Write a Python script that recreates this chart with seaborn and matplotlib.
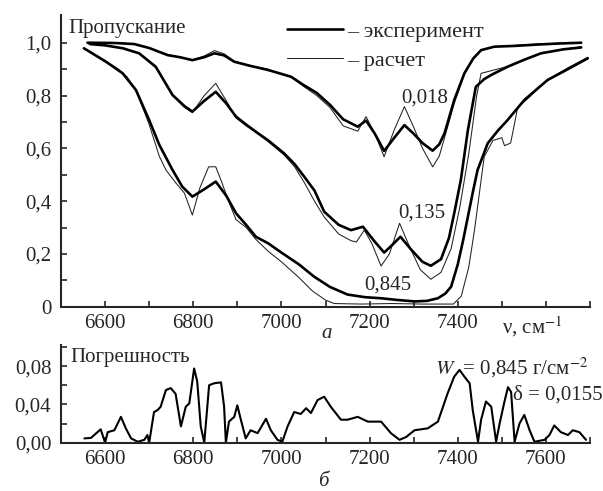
import numpy as np
import pandas as pd
import matplotlib
matplotlib.use("Agg")
import matplotlib.pyplot as plt
from matplotlib.lines import Line2D
import seaborn as sns

# ---------------- data ----------------
exp018_x = [6560, 6620, 6666, 6700, 6742, 6770, 6798, 6825, 6848, 6870, 6893, 6930, 6969, 7000, 7022,
            7050, 7080, 7110, 7140, 7173, 7192, 7212, 7233, 7256, 7279, 7300, 7320, 7343, 7358, 7370,
            7392, 7415, 7435, 7453, 7483, 7530, 7580, 7630, 7680]
exp018_y = [1.0, 0.999, 0.995, 0.98, 0.953, 0.945, 0.934, 0.945, 0.96, 0.952, 0.928, 0.912, 0.897, 0.882, 0.871,
            0.84, 0.81, 0.765, 0.71, 0.682, 0.705, 0.655, 0.59, 0.64, 0.688, 0.655, 0.62, 0.591, 0.615, 0.657,
            0.783, 0.884, 0.94, 0.972, 0.985, 0.988, 0.993, 0.997, 1.0]
calc018_x = exp018_x
calc018_y = [1.0, 0.999, 0.996, 0.98, 0.955, 0.945, 0.935, 0.95, 0.97, 0.958, 0.93, 0.913, 0.9, 0.88, 0.87,
             0.835, 0.8, 0.755, 0.685, 0.665, 0.72, 0.655, 0.568, 0.67, 0.758, 0.68, 0.6, 0.53, 0.57, 0.64,
             0.77, 0.88, 0.94, 0.97, 0.985, 0.99, 0.995, 0.998, 1.0]

exp135_x = [6565, 6600, 6640, 6677, 6715, 6753, 6780, 6798, 6825, 6851, 6875, 6897, 6920, 6942, 6970,
            7006, 7030, 7052, 7075, 7097, 7130, 7158, 7185, 7210, 7233, 7252, 7270, 7295, 7320, 7339,
            7362, 7380, 7392, 7407, 7423, 7441, 7460, 7476, 7513, 7550, 7589, 7640, 7680]
exp135_y = [0.995, 0.99, 0.979, 0.96, 0.909, 0.802, 0.76, 0.739, 0.78, 0.814, 0.77, 0.72, 0.69, 0.663, 0.63,
            0.581, 0.54, 0.492, 0.44, 0.36, 0.31, 0.29, 0.303, 0.25, 0.205, 0.235, 0.265, 0.215, 0.17, 0.155,
            0.18, 0.26, 0.354, 0.48, 0.669, 0.833, 0.862, 0.878, 0.909, 0.935, 0.96, 0.975, 0.982]
calc135_x = [6565, 6600, 6640, 6677, 6715, 6753, 6780, 6798, 6825, 6851, 6875, 6897, 6920, 6942, 6970,
             7006, 7030, 7052, 7075, 7097, 7130, 7158, 7170, 7188, 7205, 7226, 7245, 7268, 7290, 7315,
             7339, 7362, 7385, 7405, 7425, 7443, 7453, 7483, 7513, 7550, 7589, 7640, 7680]
calc135_y = [0.995, 0.99, 0.98, 0.96, 0.905, 0.8, 0.755, 0.735, 0.8, 0.846, 0.78, 0.715, 0.685, 0.66, 0.625,
             0.575, 0.53, 0.47, 0.40, 0.34, 0.275, 0.25, 0.245, 0.29, 0.24, 0.154, 0.2, 0.316, 0.23, 0.14,
             0.104, 0.13, 0.22, 0.38, 0.58, 0.80, 0.884, 0.897, 0.91, 0.935, 0.96, 0.975, 0.985]

exp845_x = [6552, 6602, 6640, 6670, 6700, 6723, 6753, 6775, 6798, 6825, 6851, 6875, 6897, 6920, 6942,
            6970, 7000, 7040, 7074, 7110, 7150, 7190, 7226, 7260, 7302, 7330, 7355, 7372, 7385, 7400,
            7412, 7423, 7435, 7445, 7468, 7490, 7513, 7551, 7580, 7604, 7650, 7695]
exp845_y = [0.979, 0.928, 0.884, 0.821, 0.707, 0.613, 0.518, 0.455, 0.417, 0.445, 0.474, 0.42, 0.354, 0.31, 0.265,
            0.24, 0.205, 0.16, 0.114, 0.075, 0.046, 0.036, 0.032, 0.026, 0.02, 0.022, 0.032, 0.05, 0.076, 0.16,
            0.25, 0.341, 0.44, 0.518, 0.619, 0.665, 0.707, 0.783, 0.825, 0.859, 0.9, 0.941]
calc845_x = [6552, 6602, 6630, 6650, 6670, 6700, 6723, 6738, 6760, 6780, 6798, 6815, 6835, 6851, 6865,
             6880, 6897, 6920, 6942, 6970, 7000, 7040, 7070, 7100, 7120, 7180, 7250, 7320, 7390, 7408,
             7425, 7438, 7460, 7480, 7500, 7506, 7520, 7536, 7560, 7604, 7650, 7695]
calc845_y = [0.979, 0.93, 0.9, 0.87, 0.82, 0.69, 0.57, 0.518, 0.47, 0.43, 0.347, 0.45, 0.53, 0.53, 0.47,
             0.40, 0.33, 0.3, 0.255, 0.21, 0.17, 0.11, 0.06, 0.025, 0.012, 0.01, 0.012, 0.01, 0.01, 0.04,
             0.15, 0.29, 0.568, 0.63, 0.64, 0.61, 0.62, 0.755, 0.79, 0.86, 0.905, 0.945]

err_x = [6553, 6568, 6590, 6600, 6606, 6621, 6636, 6647, 6659, 6674, 6689, 6696, 6700, 6711, 6719,
         6726, 6738, 6749, 6760, 6772, 6783, 6791, 6802, 6809, 6817, 6825, 6836, 6847, 6863, 6870,
         6874, 6881, 6893, 6900, 6908, 6919, 6930, 6946, 6965, 6976, 6991, 7002, 7014, 7029, 7044,
         7056, 7067, 7082, 7097, 7112, 7135, 7150, 7173, 7196, 7226, 7249, 7268, 7283, 7302, 7332,
         7355, 7377, 7392, 7404, 7415, 7427, 7434, 7446, 7453, 7464, 7476, 7487, 7495, 7506, 7514,
         7521, 7529, 7540, 7551, 7563, 7574, 7597, 7608, 7619, 7634, 7650, 7661, 7676, 7691]
err_y = [0.0045, 0.005, 0.014, 0.0, 0.011, 0.013, 0.027, 0.015, 0.0045, 0.001, 0.003, 0.008, 0.0, 0.032, 0.034,
         0.0375, 0.055, 0.057, 0.051, 0.017, 0.0375, 0.041, 0.0775, 0.064, 0.017, 0.0, 0.060, 0.062, 0.063, 0.0375,
         0.0, 0.022, 0.027, 0.039, 0.024, 0.0045, 0.013, 0.010, 0.025, 0.013, 0.003, 0.001, 0.017, 0.032, 0.030,
         0.036, 0.031, 0.0445, 0.048, 0.0375, 0.024, 0.024, 0.027, 0.022, 0.022, 0.0097, 0.003, 0.006, 0.013, 0.015,
         0.022, 0.0515, 0.069, 0.076, 0.069, 0.062, 0.034, 0.001, 0.024, 0.043, 0.0375, 0.001, 0.020, 0.043, 0.058,
         0.053, 0.001, 0.020, 0.029, 0.013, 0.001, 0.003, 0.008, 0.018, 0.011, 0.008, 0.013, 0.011, 0.003]

xticks_top = [6600, 6800, 7000, 7200, 7400]
xtick_labels_top = ["6600", "6800", "7000", "7200", "7400"]
yticks_top = [0, 0.2, 0.4, 0.6, 0.8, 1.0]
ytick_labels_top = ["0", "0,2", "0,4", "0,6", "0,8", "1,0"]
xticks_bot = [6600, 6800, 7000, 7200, 7400, 7600]
xtick_labels_bot = ["6600", "6800", "7000", "7200", "7400", "7600"]
yticks_bot = [0.0, 0.04, 0.08]
ytick_labels_bot = ["0,00", "0,04", "0,08"]
conc_labels = ["0,018", "0,135", "0,845"]

# ---------------- style ----------------
sns.set_style("ticks")
plt.rcParams['font.family'] = ['Liberation Serif', 'DejaVu Serif']
plt.rcParams['mathtext.fontset'] = 'stix'
FS = 15

W, H = 603, 491
fig = plt.figure(figsize=(W / 100, H / 100), dpi=100)
ax1 = fig.add_axes([61 / W, 1 - 306.7 / H, 529 / W, 291.7 / H])
ax2 = fig.add_axes([61 / W, 1 - 442.7 / H, 529 / W, 97.7 / H])

THICK, THIN = 1.9, 0.75
for xs, ys in [(calc018_x, calc018_y), (calc135_x, calc135_y), (calc845_x, calc845_y)]:
    sns.lineplot(x=xs, y=ys, ax=ax1, color="#222222", linewidth=THIN, estimator=None, sort=False)
for xs, ys in [(exp018_x, exp018_y), (exp135_x, exp135_y), (exp845_x, exp845_y)]:
    sns.lineplot(x=xs, y=ys, ax=ax1, color="black", linewidth=THICK, estimator=None, sort=False)

sns.lineplot(x=err_x, y=err_y, ax=ax2, color="black", linewidth=1.5, estimator=None, sort=False)

for ax in (ax1, ax2):
    sns.despine(ax=ax)
    ax.spines['left'].set_linewidth(1.5)
    ax.spines['bottom'].set_linewidth(1.5)
    ax.set_xlim(6500, 7700)
    ax.set_xticks(np.arange(6600, 7701, 100), minor=True)
    ax.tick_params(which='both', direction='in', length=4, width=1.2, labelsize=FS)
    ax.set_xlabel("")
    ax.set_ylabel("")

ax1.set_ylim(0, 1.105)
ax1.set_xticks(xticks_top)
ax1.set_xticklabels(xtick_labels_top)
ax1.set_yticks(yticks_top)
ax1.set_yticklabels(ytick_labels_top)
ax1.set_yticks(np.arange(0.1, 1.05, 0.2), minor=True)
ax1.tick_params(axis='x', which='both', pad=5)
ax1.tick_params(axis='y', which='both', pad=7)

ax2.set_ylim(0, 0.102)
ax2.set_xticks(xticks_bot)
ax2.set_xticklabels(xtick_labels_bot)
ax2.set_yticks(yticks_bot)
ax2.set_yticklabels(ytick_labels_bot)
ax2.set_yticks([0.02, 0.06, 0.10], minor=True)
ax2.tick_params(axis='x', which='both', pad=5)
ax2.tick_params(axis='y', which='both', pad=7)

# axis unit label in place of 7600
ax1.text(7570, -0.028, "ν, см$^{-1}$", ha='center', va='top', fontsize=FS, clip_on=False)

# titles inside
ax1.text(0.013, 0.955, "Пропускание", transform=ax1.transAxes, ha='left', va='center', fontsize=FS)
ax2.text(0.017, 0.867, "Погрешность", transform=ax2.transAxes, ha='left', va='center', fontsize=FS)

# legend
leg_handles = [Line2D([], [], color='black', lw=THICK), Line2D([], [], color='#222222', lw=THIN)]
ax1.legend(leg_handles, ["– эксперимент", "– расчет"], loc='upper left',
           bbox_to_anchor=(0.427, 0.978), frameon=False, fontsize=16,
           handlelength=2.52, handletextpad=0.18, labelspacing=0.36,
           borderaxespad=0.0, borderpad=0.0)

# concentration labels
ax1.text(7325, 0.79, conc_labels[0], ha='center', va='center', fontsize=FS)
ax1.text(7319, 0.355, conc_labels[1], ha='center', va='center', fontsize=FS)
ax1.text(7242, 0.082, conc_labels[2], ha='center', va='center', fontsize=FS)

# bottom annotations
ax2.text(0.707, 0.765, "$W$  = 0,845 г/см$^{-2}$", transform=ax2.transAxes, ha='left', va='center', fontsize=FS)
ax2.text(0.854, 0.488, "δ = 0,0155", transform=ax2.transAxes, ha='left', va='center', fontsize=FS)

# panel letters
fig.text(327 / W, 1 - 333 / H, "а", ha='center', va='center', fontsize=FS, style='italic')
fig.text(323 / W, 1 - 481 / H, "б", ha='center', va='center', fontsize=FS, style='italic')

fig.savefig("out.png", dpi=100)
